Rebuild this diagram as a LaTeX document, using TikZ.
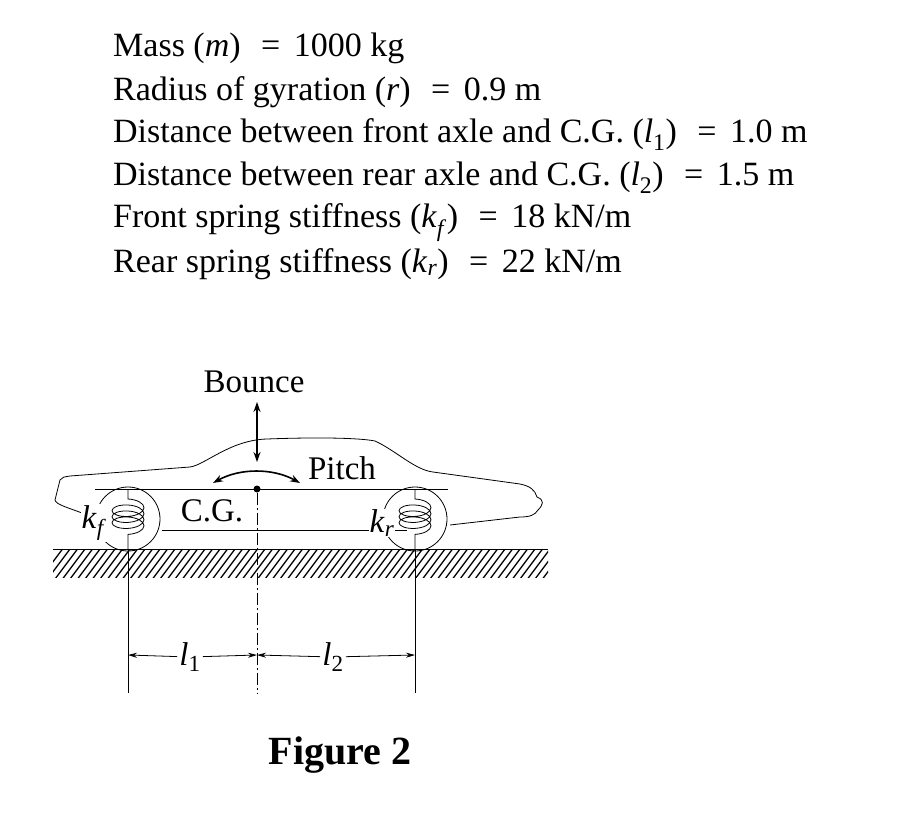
\documentclass[tikz,border=0pt]{standalone}
\usepackage{fontspec}
\setmainfont{Liberation Serif}
\usetikzlibrary{arrows.meta,decorations.pathmorphing}
\begin{document}
\begin{tikzpicture}[x=1pt,y=-1pt,
  txt/.style={anchor=base west,inner sep=0pt,font=\fontsize{34}{40}\selectfont},
  lab/.style={inner sep=0pt,font=\fontsize{33}{38}\selectfont},
  thin/.style={line width=0.8pt},
  dim/.style={line width=0.8pt,-{Stealth[length=9pt,width=5pt]}}]
\useasboundingbox (0,0) rectangle (918,813);
\newcommand{\eqsp}{\hspace{0.6em}=\hspace{0.4em}}
\node[txt] (t1) at (113,57) {Mass (\textit{m})\eqsp 1000 kg};
\node[txt] (t2) at (113,101) {Radius of gyration (\textit{r})\eqsp 0.9 m};
\node[txt] (t3) at (113,143) {Distance between front axle and C.G. (\textit{l}\textsubscript{1})\eqsp 1.0 m};
\node[txt] (t4) at (113,186) {Distance between rear axle and C.G. (\textit{l}\textsubscript{2})\eqsp 1.5 m};
\node[txt] (t5) at (113,228) {Front spring stiffness (\textit{k}\textsubscript{\textit{f}})\eqsp 18 kN/m};
\node[txt] (t6) at (113,272) {Rear spring stiffness (\textit{k}\textsubscript{\textit{r}})\eqsp 22 kN/m};
% car body
\draw[thin] (87,515) .. controls (70,508) and (56,505) .. (55,500) -- (60,480) .. controls (62,477) and (64,477) .. (70,476)
  -- (190,467) .. controls (205,465) and (230,440) .. (267,439) .. controls (320,437) and (360,438) .. (375,441)
  .. controls (395,450) and (415,470) .. (433,472) -- (520,484) .. controls (530,486) and (535,490) .. (537,497)
  .. controls (545,500) and (543,505) .. (538,510) .. controls (535,515) and (530,517) .. (520,517) -- (450,525);
\draw[thin] (95,489) -- (448,489);
\draw[thin] (162,530) -- (407,530);
% wheels arcs
\draw[thin] (128,519) circle[radius=32];
\draw[thin] (415,519) circle[radius=32];
% springs
\foreach \x/\n in {128/sf,415/sr}{
  \coordinate (\n a) at (\x,490);
  \coordinate (\n b) at (\x,549);
  \draw[thin,decorate,decoration={coil,aspect=0.45,amplitude=16pt,segment length=6pt,pre length=9pt,post length=9pt}] (\n a) -- (\n b);
}
% ground
\draw[thin] (53,549) -- (548,549);
\begin{scope}
\clip (53,549) rectangle (548,577);
\foreach \i in {0,...,70}{\draw[line width=1.3pt] (40+\i*7.5,579) -- (64+\i*7.5,547);}
\end{scope}
% vertical lines
\draw[thin] (128,549) -- (128,693);
\draw[thin] (415,549) -- (415,693);
\node[circle,fill,inner sep=0pt,minimum size=7pt] (cg) at (257,489) {};
\coordinate (cb) at (257,693);
\draw[thin,dash pattern=on 12pt off 3pt on 2pt off 3pt] (cg) -- (cb);
% dimensions
\coordinate (d1) at (128,655); \coordinate (d2) at (257,655); \coordinate (d3) at (415,655);
\node[lab,fill=white,inner xsep=2pt] (l1) at (190,657) {\textit{l}\textsubscript{1}};
\node[lab,fill=white,inner xsep=2pt] (l2) at (333,657) {\textit{l}\textsubscript{2}};
\draw[dim] (l1) -- (d1); \draw[dim] (l1) -- (d2);
\draw[dim] (l2) -- (d2); \draw[dim] (l2) -- (d3);
% bounce
\node[lab] (bounce) at (254,382) {Bounce};
\coordinate (b1) at (257,402); \coordinate (b2) at (257,462);
\draw[line width=1.6pt,{Stealth[length=10pt,width=7pt]}-{Stealth[length=10pt,width=7pt]}] (b1) -- (b2);
% pitch
\coordinate (p1) at (213,483); \coordinate (p2) at (300,483);
\draw[line width=1.6pt,{Stealth[length=10pt,width=7pt]}-{Stealth[length=10pt,width=7pt]}] (p1) .. controls (240,468) and (273,468) .. (p2);
\node[lab] (pitch) at (342,468) {Pitch};
\node[lab] (cgl) at (212,511) {C.G.};
\node[lab,fill=white,inner sep=1pt] (kf) at (94,523) {\textit{k}\textsubscript{\textit{f}}};
\node[lab,fill=white,inner sep=1pt] (kr) at (382,523) {\textit{k}\textsubscript{\textit{r}}};
\node[inner sep=0pt,font=\fontsize{40}{46}\selectfont\bfseries] (fig) at (340,755) {Figure 2};
\end{tikzpicture}
\end{document}
